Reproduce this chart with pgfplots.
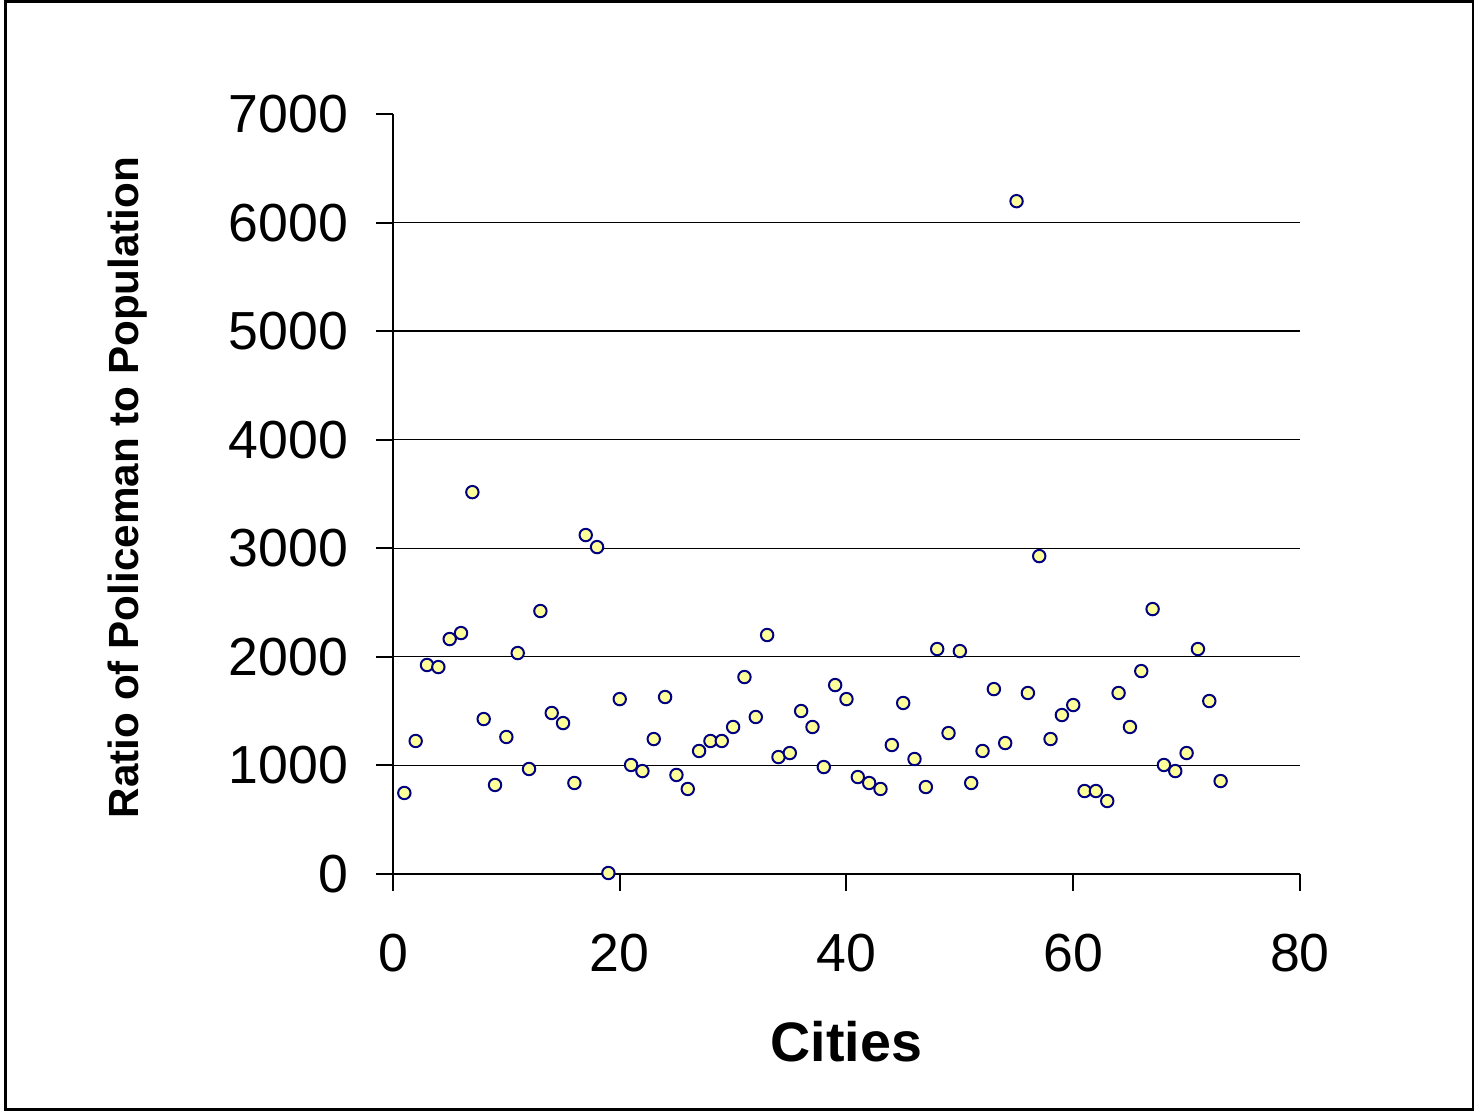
\documentclass[border=0pt]{standalone}
\usepackage{pgfplots}
\pgfplotsset{compat=1.18}
\usepackage{fontspec}
\setmainfont{Liberation Sans}
\definecolor{mkfill}{RGB}{255,255,153}
\definecolor{mkline}{RGB}{0,0,128}
\begin{document}
\begin{tikzpicture}[x=1pt,y=1pt]
\useasboundingbox (0,0) rectangle (737,556);
\draw[line width=1.5pt] (2.5,1) rectangle (736.5,555.2);
\begin{axis}[
  at={(196.5pt,119pt)}, anchor=south west,
  scale only axis, width=453.5pt, height=380pt,
  xmin=0, xmax=80, ymin=0, ymax=7000,
  axis x line=bottom, axis y line=left,
  axis line style={line width=1pt,-},
  xtick={0,20,...,80}, ytick={0,1000,...,7000},
  extra y ticks={1000,2000,3000,4000,5000,6000},
  extra y tick labels={},
  extra y tick style={grid=major, major tick length=0pt},
  major grid style={black, line width=0.65pt},
  tick align=outside, major tick length=8.5pt,
  tick style={black, line width=1pt},
  /pgf/number format/assume math mode=true,
  scaled y ticks=false,
  yticklabel style={/pgf/number format/1000 sep={}, font=\fontsize{26.8}{31}\selectfont, xshift=-10.5pt},
  xticklabel style={font=\fontsize{26.8}{31}\selectfont, yshift=-18pt},
  xlabel={Cities}, ylabel={Ratio of Policeman to Population},
  xlabel style={font=\fontsize{27.8}{32}\selectfont\bfseries, at={(axis description cs:0.5,-0.221)}, anchor=center},
  ylabel style={font=\fontsize{21.1}{25}\selectfont\bfseries, at={(axis description cs:-0.293,0.5086)}, anchor=center, rotate=0},
  clip=false,
]
\addplot[only marks, mark=*, mark size=3.1pt, mark options={fill=mkfill, draw=mkline, line width=1pt}] coordinates {
(1,746)(2,1225)(3,1925)(4,1906)(5,2164)(6,2219)(7,3517)(8,1427)(9,820)(10,1262)
(11,2035)(12,967)(13,2422)(14,1483)(15,1390)(16,838)(17,3122)(18,3011)(19,9)(20,1611)
(21,1004)(22,948)(23,1243)(24,1630)(25,912)(26,783)(27,1133)(28,1225)(29,1225)(30,1354)
(31,1814)(32,1446)(33,2201)(34,1077)(35,1114)(36,1501)(37,1354)(38,985)(39,1740)(40,1611)
(41,893)(42,838)(43,783)(44,1188)(45,1575)(46,1059)(47,801)(48,2072)(49,1298)(50,2053)
(51,838)(52,1133)(53,1703)(54,1206)(55,6197)(56,1667)(57,2928)(58,1243)(59,1464)(60,1556)
(61,764)(62,764)(63,672)(64,1667)(65,1354)(66,1869)(67,2440)(68,1004)(69,948)(70,1114)
(71,2072)(72,1593)(73,856)
};
\end{axis}
\end{tikzpicture}
\end{document}
